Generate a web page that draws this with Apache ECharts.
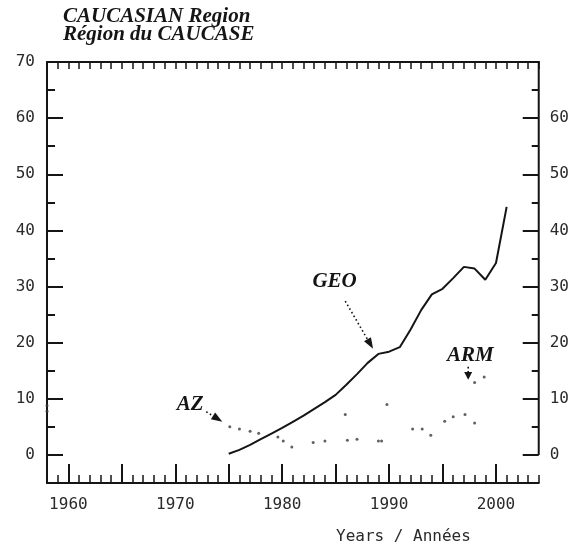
<!DOCTYPE html>
<html>
<head>
<meta charset="utf-8">
<script src="https://cdn.jsdelivr.net/npm/echarts@6/dist/echarts.min.js"></script>
<style>
  html, body { margin: 0; padding: 0; background: #fff; }
  #chart { width: 572px; height: 550px; }
</style>
</head>
<body>
<div id="chart"></div>
<script>
// Georgia: solid line, yearly values
const geoYears  = [1975, 1976, 1977, 1978, 1979, 1980, 1981, 1982, 1983, 1984, 1985, 1986, 1987, 1988, 1989, 1990, 1991, 1992, 1993, 1994, 1995, 1996, 1997, 1998, 1999, 2000, 2001];
const geoValues = [0.2, 0.9, 1.8, 2.8, 3.8, 4.8, 5.9, 7.0, 8.2, 9.4, 10.7, 12.5, 14.4, 16.4, 18.0, 18.4, 19.2, 22.3, 25.8, 28.6, 29.6, 31.5, 33.5, 33.2, 31.2, 34.2, 44.2];

// Azerbaijan: dotted line, one entry per printed dot
const azYears  = [1958, 1958, 1975.1, 1976.0, 1977.0, 1977.8, 1979.6, 1980.1, 1980.9, 1982.9, 1984.0, 1986.1, 1987.0, 1989.0, 1989.3, 1992.2, 1993.1, 1993.9, 1995.2, 1996.0, 1997.1, 1998.0];
const azValues = [8.8, 7.8, 5.0, 4.6, 4.2, 3.85, 3.2, 2.5, 1.4, 2.2, 2.5, 2.6, 2.8, 2.5, 2.5, 4.6, 4.6, 3.5, 6.0, 6.8, 7.2, 5.7];

// Armenia: dotted line, one entry per printed dot
const armYears  = [1985.9, 1989.8, 1998.0, 1998.9];
const armValues = [7.2, 9.0, 12.9, 13.9];

// Axis ticks and labels
const yearLabels    = [1960, 1970, 1980, 1990, 2000];
const fiveYearTicks = [1960, 1965, 1970, 1975, 1980, 1985, 1990, 1995, 2000];
const yearTicks     = Array.from({ length: 2004 - 1958 + 1 }, (_, i) => 1958 + i);
const leftLabels    = [0, 10, 20, 30, 40, 50, 60, 70];
const rightLabels   = [0, 10, 20, 30, 40, 50, 60];
const halfTicks     = [5, 15, 25, 35, 45, 55, 65];

const titleLines = ['CAUCASIAN Region', 'Région du CAUCASE'];
const xTitle = 'Years / Années';

// Series annotations (label centre, arrow tail, arrow tip), in chart units
const tags = [
  { text: 'GEO', at: [1984.9, 30.9], from: [1985.9, 27.4], to: [1988.5, 18.9] },
  { text: 'AZ',  at: [1971.4, 8.9],  from: [1972.9, 7.7],  to: [1974.4, 5.9] },
  { text: 'ARM', at: [1997.6, 17.7], from: [1997.4, 15.7], to: [1997.4, 13.4] }
];

const INK = '#151515';
const TICKFONT = "'DejaVu Sans Mono', 'Liberation Mono', monospace";
const SERIF = "'Liberation Serif', 'Times New Roman', serif";
const X_MIN = 1958, X_MAX = 2004, Y_MIN = -5, Y_MAX = 70;

const lineStyle = { color: INK, width: 2 };
const thinTick = { color: INK, width: 1.5 };
const noSplit = { show: false };
const labelStyle = { fontFamily: TICKFONT, fontSize: 16, color: '#2a2a2a', formatter: v => String(v) };

const chart = echarts.init(document.getElementById('chart'), null, { renderer: 'canvas' });

function xAxisDef(position, showLine, tick, label) {
  return {
    type: 'value', min: X_MIN, max: X_MAX, position,
    axisLine: { show: showLine, onZero: false, lineStyle },
    axisTick: Object.assign({ show: true, inside: true }, tick),
    axisLabel: label || { show: false },
    splitLine: noSplit
  };
}
function yAxisDef(position, showLine, tick, label) {
  return {
    type: 'value', min: Y_MIN, max: Y_MAX, position,
    axisLine: { show: showLine, onZero: false, lineStyle },
    axisTick: Object.assign({ show: true, inside: true }, tick),
    axisLabel: label || { show: false },
    splitLine: noSplit
  };
}

chart.setOption({
  animation: false,
  backgroundColor: '#ffffff',
  grid: { left: 47, right: 31, top: 62, bottom: 67, containLabel: false },
  xAxis: [
    xAxisDef('bottom', true, { length: 19, customValues: fiveYearTicks, lineStyle },
      Object.assign({ customValues: yearLabels, margin: 14 }, labelStyle)),
    xAxisDef('bottom', false, { length: 8, customValues: yearTicks, lineStyle: thinTick }),
    xAxisDef('top', true, { length: 7, customValues: yearTicks, lineStyle: thinTick })
  ],
  yAxis: [
    yAxisDef('left', true, { length: 16, customValues: leftLabels, lineStyle },
      Object.assign({ customValues: leftLabels, margin: 12 }, labelStyle)),
    yAxisDef('left', false, { length: 8, customValues: halfTicks, lineStyle }),
    // right frame line is drawn separately, from 0 upwards
    yAxisDef('right', false, { length: 16, customValues: rightLabels, lineStyle },
      Object.assign({ customValues: rightLabels, margin: 11 }, labelStyle)),
    yAxisDef('right', false, { length: 7, customValues: halfTicks, lineStyle })
  ],
  series: [
    {
      name: 'GEO', type: 'line', xAxisIndex: 0, yAxisIndex: 0,
      data: geoYears.map((y, i) => [y, geoValues[i]]),
      showSymbol: false, symbol: 'none',
      lineStyle: { color: INK, width: 2 },
      z: 5
    },
    {
      name: 'AZ', type: 'scatter', xAxisIndex: 0, yAxisIndex: 0,
      data: azYears.map((y, i) => [y, azValues[i]]),
      symbol: 'circle', symbolSize: 3,
      itemStyle: { color: '#3a3a3a' }
    },
    {
      name: 'ARM', type: 'scatter', xAxisIndex: 0, yAxisIndex: 0,
      data: armYears.map((y, i) => [y, armValues[i]]),
      symbol: 'circle', symbolSize: 3,
      itemStyle: { color: '#3a3a3a' }
    }
  ]
});

// Title, axis caption, right frame line and the labelled arrows
const toPx = p => chart.convertToPixel({ seriesIndex: 0 }, p);

function arrow(tail, tip) {
  const dx = tip[0] - tail[0], dy = tip[1] - tail[1];
  const len = Math.hypot(dx, dy) || 1;
  const ux = dx / len, uy = dy / len;
  const headLen = Math.min(11, len * 0.6), headW = 4;
  const base = [tip[0] - ux * headLen, tip[1] - uy * headLen];
  return [
    {
      type: 'line',
      shape: { x1: tail[0], y1: tail[1], x2: base[0], y2: base[1] },
      style: { stroke: INK, lineWidth: 1.6, lineDash: [1.6, 2.6] }
    },
    {
      type: 'polygon',
      shape: { points: [tip, [base[0] - uy * headW, base[1] + ux * headW], [base[0] + uy * headW, base[1] - ux * headW]] },
      style: { fill: INK }
    }
  ];
}

const elements = [];
titleLines.forEach((t, i) => {
  elements.push({
    type: 'text', left: 63, top: 6 + i * 18,
    style: { text: t, font: `italic bold 21px ${SERIF}`, fill: INK }
  });
});
elements.push({
  type: 'text', left: 336, top: 529,
  style: { text: xTitle, font: `16px ${TICKFONT}`, fill: '#2a2a2a' }
});

const frameBottom = toPx([X_MAX, 0]);
const frameTop = toPx([X_MAX, Y_MAX]);
elements.push({
  type: 'line',
  shape: { x1: frameBottom[0], y1: frameBottom[1], x2: frameTop[0], y2: frameTop[1] - 1 },
  style: { stroke: INK, lineWidth: 2 }
});

tags.forEach(tag => {
  const c = toPx(tag.at);
  elements.push({
    type: 'text', x: c[0], y: c[1],
    style: { text: tag.text, font: `italic bold 21px ${SERIF}`, fill: INK, align: 'center', verticalAlign: 'middle' }
  });
  elements.push(...arrow(toPx(tag.from), toPx(tag.to)));
});

chart.setOption({ graphic: { elements } });
</script>
</body>
</html>
